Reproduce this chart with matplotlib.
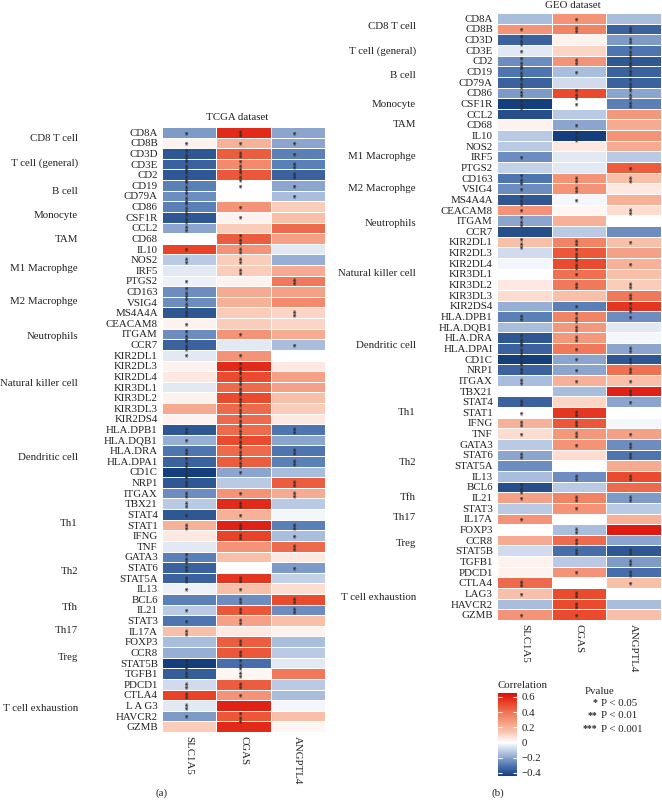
"""Immune-marker correlation heatmaps for SLC1A5 / CGAS / ANGPTL4 (TCGA vs GEO)."""

import matplotlib

matplotlib.use("Agg")
import matplotlib.pyplot as plt
import numpy as np
from matplotlib.colors import LinearSegmentedColormap, Normalize
from matplotlib.transforms import blended_transform_factory

plt.rcParams["font.family"] = ["Liberation Serif", "DejaVu Serif"]

W, H = 662, 800

COLUMNS = ["SLC1A5", "CGAS", "ANGPTL4"]

GENES_TCGA = [
    "CD8A", "CD8B", "CD3D", "CD3E", "CD2", "CD19", "CD79A", "CD86", "CSF1R",
    "CCL2", "CD68", "IL10", "NOS2", "IRF5", "PTGS2", "CD163", "VSIG4", "MS4A4A",
    "CEACAM8", "ITGAM", "CCR7", "KIR2DL1", "KIR2DL3", "KIR2DL4", "KIR3DL1",
    "KIR3DL2", "KIR3DL3", "KIR2DS4", "HLA.DPB1", "HLA.DQB1", "HLA.DRA",
    "HLA.DPA1", "CD1C", "NRP1", "ITGAX", "TBX21", "STAT4", "STAT1", "IFNG",
    "TNF", "GATA3", "STAT6", "STAT5A", "IL13", "BCL6", "IL21", "STAT3", "IL17A",
    "FOXP3", "CCR8", "STAT5B", "TGFB1", "PDCD1", "CTLA4", "L A G3", "HAVCR2",
    "GZMB",
]
GENES_GEO = [g for g in GENES_TCGA]
GENES_GEO[31] = "HLA.DPAI"
GENES_GEO[54] = "LAG3"

# correlation values
TCGA_SLC1A5 = [-0.22, 0.03, -0.38, -0.35, -0.38, -0.28, -0.25, -0.28, -0.38, -0.2,
               0.0, 0.52, -0.12, -0.05, -0.03, -0.25, -0.25, -0.38, 0.03, -0.25,
               -0.35, -0.05, 0.03, 0.05, -0.05, 0.03, 0.22, 0.03, -0.38, -0.18,
               -0.3, -0.35, -0.44, -0.38, -0.25, -0.12, -0.38, 0.2, 0.05, -0.05,
               -0.28, -0.35, -0.35, -0.03, -0.28, -0.12, -0.3, 0.15, -0.15, -0.18,
               -0.44, -0.36, -0.08, 0.52, -0.05, -0.22, 0.12]
TCGA_CGAS = [0.58, 0.2, 0.45, 0.33, 0.47, 0.0, 0.0, 0.3, 0.03, 0.12,
             0.45, 0.3, 0.12, 0.12, 0.03, 0.22, 0.2, 0.12, 0.12, 0.3,
             -0.05, 0.3, 0.58, 0.5, 0.42, 0.5, 0.42, 0.42, 0.42, 0.5,
             0.42, 0.45, -0.2, -0.12, 0.3, 0.58, 0.2, 0.6, 0.52, 0.3,
             0.15, 0.0, 0.55, 0.15, -0.25, 0.47, 0.25, 0.05, 0.45, 0.47,
             -0.32, 0.02, 0.45, 0.3, 0.6, 0.47, 0.58]
TCGA_ANGPTL4 = [-0.2, -0.2, -0.28, -0.28, -0.35, -0.2, -0.15, 0.12, 0.15, 0.42,
                0.25, -0.05, -0.18, 0.22, 0.38, 0.25, 0.33, 0.1, 0.1, 0.22,
                -0.15, 0.0, 0.05, 0.25, 0.25, 0.15, 0.12, 0.05, -0.3, -0.2,
                -0.3, -0.28, -0.15, 0.45, 0.22, -0.12, -0.02, -0.28, -0.15, 0.42,
                0.05, -0.22, -0.1, 0.08, 0.5, -0.25, 0.15, 0.03, -0.15, -0.12,
                -0.05, 0.38, -0.12, -0.15, -0.02, 0.15, 0.02]

GEO_SLC1A5 = [-0.15, 0.3, -0.35, -0.05, -0.25, -0.3, -0.35, -0.22, -0.44, -0.4,
              0.03, -0.12, -0.12, -0.25, -0.1, -0.3, -0.25, -0.38, 0.3, -0.2,
              -0.4, 0.15, -0.08, -0.02, 0.0, 0.05, 0.08, -0.18, -0.28, -0.15,
              -0.38, -0.35, -0.44, -0.35, -0.15, 0.0, -0.35, 0.0, 0.2, 0.08,
              -0.12, -0.2, -0.25, -0.15, -0.4, 0.25, -0.12, 0.3, 0.0, 0.22,
              -0.08, 0.03, 0.03, 0.42, 0.15, -0.15, 0.3]
GEO_CGAS = [0.3, 0.35, 0.03, 0.1, 0.3, -0.15, -0.08, 0.5, 0.0, -0.12,
            -0.2, -0.44, 0.05, -0.05, -0.05, 0.3, 0.3, -0.02, 0.02, 0.2,
            -0.12, 0.35, 0.47, 0.5, 0.4, 0.38, 0.15, -0.28, 0.35, 0.28,
            0.28, 0.38, -0.2, -0.2, 0.2, -0.15, 0.1, 0.55, 0.47, 0.28,
            0.3, 0.08, 0.0, -0.25, -0.12, 0.35, 0.3, 0.0, -0.15, 0.42,
            -0.32, -0.12, 0.3, 0.0, 0.5, 0.5, 0.5]
GEO_ANGPTL4 = [-0.15, -0.35, -0.22, -0.3, -0.38, -0.35, -0.35, -0.2, -0.28, 0.28,
               0.22, 0.3, 0.22, -0.12, 0.45, 0.15, 0.05, 0.2, 0.08, 0.0,
               -0.25, 0.15, 0.25, 0.2, 0.15, 0.12, 0.38, 0.55, -0.25, -0.05,
               -0.02, -0.2, -0.38, 0.4, 0.15, 0.6, -0.2, 0.0, -0.02, 0.25,
               -0.25, -0.3, 0.22, 0.5, 0.42, -0.22, -0.12, 0.2, 0.62, -0.2,
               -0.38, -0.22, -0.32, 0.15, 0.0, -0.15, 0.15]

# number of significance stars per cell
TCGA_SLC1A5_STARS = [1, 1, 3, 3, 3, 3, 3, 3, 3, 2, 0, 1, 2, 0, 1, 3, 3, 2, 1, 3,
                     3, 1, 0, 0, 0, 0, 0, 0, 2, 1, 2, 3, 3, 2, 2, 2, 1, 2, 0, 0,
                     3, 2, 2, 1, 0, 1, 1, 2, 0, 0, 3, 2, 2, 2, 2, 1, 0]
TCGA_CGAS_STARS = [2, 1, 2, 3, 3, 1, 0, 1, 1, 0, 3, 2, 2, 2, 0, 0, 0, 0, 0, 1,
                   0, 1, 3, 3, 3, 3, 3, 3, 3, 3, 3, 3, 1, 0, 1, 2, 1, 2, 2, 0,
                   0, 0, 2, 1, 2, 2, 2, 0, 2, 2, 3, 2, 2, 1, 0, 3, 0]
TCGA_ANGPTL4_STARS = [1, 1, 1, 2, 2, 1, 1, 0, 0, 0, 0, 0, 0, 0, 2, 0, 0, 2, 0, 0,
                      1, 0, 0, 0, 0, 0, 0, 0, 2, 0, 2, 2, 0, 2, 2, 0, 0, 2, 1, 2,
                      0, 1, 0, 0, 2, 2, 0, 0, 0, 0, 0, 0, 0, 0, 0, 0, 0]
GEO_SLC1A5_STARS = [0, 1, 3, 1, 3, 3, 3, 2, 3, 0, 0, 0, 0, 1, 0, 3, 1, 3, 1, 3,
                    0, 3, 0, 0, 0, 0, 0, 0, 2, 0, 3, 3, 3, 2, 2, 0, 2, 1, 2, 1,
                    0, 2, 0, 0, 3, 1, 0, 1, 0, 0, 0, 0, 0, 2, 1, 0, 1]
GEO_CGAS_STARS = [1, 2, 0, 0, 2, 1, 0, 3, 1, 0, 1, 3, 0, 0, 0, 2, 2, 1, 0, 0,
                  0, 2, 3, 3, 1, 2, 0, 1, 3, 2, 2, 1, 1, 1, 1, 0, 0, 2, 2, 2,
                  1, 0, 0, 2, 0, 2, 1, 0, 2, 2, 2, 0, 1, 0, 2, 2, 1]
GEO_ANGPTL4_STARS = [0, 2, 2, 3, 3, 2, 3, 3, 2, 0, 0, 0, 0, 0, 1, 2, 0, 0, 2, 0,
                     0, 1, 0, 1, 0, 2, 2, 3, 1, 0, 0, 2, 2, 2, 1, 2, 1, 0, 0, 1,
                     2, 2, 0, 2, 0, 2, 0, 0, 0, 0, 2, 2, 2, 1, 0, 0, 0]

GROUPS = [
    "CD8 T cell", "T cell (general)", "B cell", "Monocyte", "TAM",
    "M1 Macrophge", "M2 Macrophge", "Neutrophils", "Natural killer cell",
    "Dendritic cell", "Th1", "Th2", "Tfh", "Th17", "Treg", "T cell exhaustion",
]
# vertical position of each group label, in row units
GROUP_POS_TCGA = [1.1, 3.4, 6.1, 8.3, 10.6, 13.3, 16.4, 19.7, 24.2, 31.1,
                  37.4, 41.9, 45.3, 47.4, 50.0, 54.8]
GROUP_POS_GEO = [1.3, 3.6, 5.9, 8.6, 10.5, 13.5, 16.5, 19.8, 24.5, 31.2,
                 37.5, 42.2, 45.5, 47.4, 49.8, 54.9]

CBAR_TICKS = [0.6, 0.4, 0.2, 0.0, -0.2, -0.4]
CBAR_LABELS = ["0.6", "0.4", "0.2", "0", "\u22120.2", "\u22120.4"]
PVALUE_STARS = ["*", "**", "***"]
PVALUE_TEXT = ["P < 0.05", "P < 0.01", "P < 0.001"]

VMIN, VMAX = -0.44, 0.65
CMAP_NODES = [
    (-0.44, "#153F7C"),
    (-0.3, "#5076B2"),
    (-0.15, "#A9BDDD"),
    (0.0, "#FFFFFF"),
    (0.15, "#F9C0A9"),
    (0.35, "#F28466"),
    (0.5, "#EA4B2E"),
    (0.65, "#DC0E0A"),
]
CMAP = LinearSegmentedColormap.from_list(
    "corr", [((v - VMIN) / (VMAX - VMIN), c) for v, c in CMAP_NODES]
)
NORM = Normalize(vmin=VMIN, vmax=VMAX)

FS = 7.8
TEXT_COLOR = "#222222"
STAR_COLOR = "#2B2B2B"


def fx(px):
    return px / W


def fy(py):
    return 1 - py / H


def draw_heatmap(fig, box, genes, values, stars, group_pos, group_x):
    """One heatmap panel; box = (left, top, right, bottom) in pixels."""
    left, top, right, bottom = box
    ax = fig.add_axes([fx(left), fy(bottom), fx(right - left), (bottom - top) / H])
    data = np.column_stack(values)
    mesh = ax.pcolormesh(data, cmap=CMAP, norm=NORM, edgecolors="white",
                         linewidth=0.7)
    ax.set_xlim(0, data.shape[1])
    ax.set_ylim(data.shape[0], 0)
    ax.set_yticks(np.arange(len(genes)) + 0.5, genes, fontsize=FS,
                  color=TEXT_COLOR)
    ax.set_xticks(np.arange(len(COLUMNS)) + 0.5, COLUMNS, rotation=-90,
                  fontsize=FS, color=TEXT_COLOR)
    ax.tick_params(length=0, pad=3)
    for spine in ax.spines.values():
        spine.set_visible(False)

    star_arr = np.column_stack(stars)
    for i in range(star_arr.shape[0]):
        for j in range(star_arr.shape[1]):
            n = star_arr[i, j]
            if n:
                ax.text(j + 0.5, i + 0.5, "*" * n, rotation=90, ha="center",
                        va="center", fontsize=6.5, fontweight="bold",
                        color=STAR_COLOR)

    trans = blended_transform_factory(fig.transFigure, ax.transData)
    for name, pos in zip(GROUPS, group_pos):
        ax.text(group_x, pos, name, transform=trans, ha="right", va="center",
                fontsize=FS, color=TEXT_COLOR)
    return mesh


def main():
    fig = plt.figure(figsize=(W / 100, H / 100), dpi=100)

    draw_heatmap(
        fig, (162, 127, 325, 732), GENES_TCGA,
        [TCGA_SLC1A5, TCGA_CGAS, TCGA_ANGPTL4],
        [TCGA_SLC1A5_STARS, TCGA_CGAS_STARS, TCGA_ANGPTL4_STARS],
        GROUP_POS_TCGA, fx(78),
    )
    mesh = draw_heatmap(
        fig, (497, 13, 661, 620), GENES_GEO,
        [GEO_SLC1A5, GEO_CGAS, GEO_ANGPTL4],
        [GEO_SLC1A5_STARS, GEO_CGAS_STARS, GEO_ANGPTL4_STARS],
        GROUP_POS_GEO, fx(416),
    )

    fig.text(fx(237), fy(118), "TCGA dataset", ha="center", va="center",
             fontsize=FS, color=TEXT_COLOR)
    fig.text(fx(573), fy(6), "GEO dataset", ha="center", va="center",
             fontsize=FS, color=TEXT_COLOR)
    fig.text(fx(161), fy(793), "(a)", ha="center", va="center", fontsize=FS,
             color=TEXT_COLOR)
    fig.text(fx(498), fy(793), "(b)", ha="center", va="center", fontsize=FS,
             color=TEXT_COLOR)

    # colour bar legend
    cax = fig.add_axes([fx(498), fy(776), fx(19), 83 / H])
    cb = fig.colorbar(mesh, cax=cax, ticks=CBAR_TICKS)
    cb.outline.set_visible(False)
    cb.set_ticklabels(CBAR_LABELS)
    cax.tick_params(direction="in", length=3, width=0.8, color="white",
                    left=True, right=True, labelsize=FS, labelcolor=TEXT_COLOR,
                    pad=3)
    fig.text(fx(497), fy(686), "Correlation", ha="left", va="center",
             fontsize=FS, color=TEXT_COLOR)

    # p-value legend
    fig.text(fx(585), fy(691), "Pvalue", ha="left", va="center", fontsize=FS,
             color=TEXT_COLOR)
    for k, (st, txt) in enumerate(zip(PVALUE_STARS, PVALUE_TEXT)):
        y = fy(703 + 13 * k)
        fig.text(fx(597), y, st, ha="right", va="center", fontsize=7,
                 fontweight="bold", color=STAR_COLOR)
        fig.text(fx(601), y, txt, ha="left", va="center", fontsize=FS,
                 color=TEXT_COLOR)

    fig.savefig("out.png", dpi=100)


if __name__ == "__main__":
    main()
